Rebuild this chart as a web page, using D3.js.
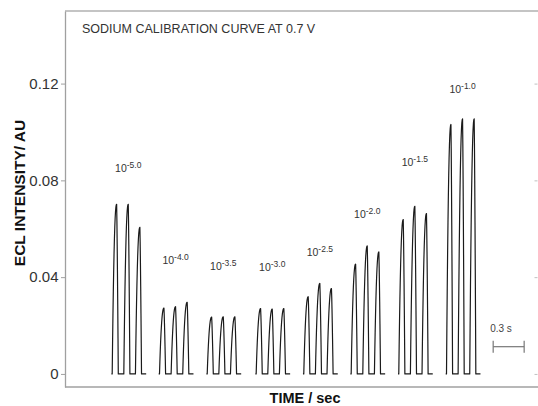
<!DOCTYPE html>
<html>
<head>
<meta charset="utf-8">
<script src="https://cdn.jsdelivr.net/npm/d3@7"></script>
<style>
  body { margin: 0; background: #fff; }
  text { font-family: "Liberation Sans", Arial, sans-serif; }
</style>
</head>
<body>
<script>
// concentration labels (exponent of 10) for each group of pulses
const concentrations = ["-5.0", "-4.0", "-3.5", "-3.0", "-2.5", "-2.0", "-1.5", "-1.0"];
// time (s) of the first pulse peak in each group
const groupStart = [0.50, 0.958, 1.42, 1.894, 2.355, 2.814, 3.275, 3.737];
// peak ECL intensity (AU) of the three pulses in each group
const peak1 = [0.0701, 0.0272, 0.0235, 0.0270, 0.0319, 0.0454, 0.0638, 0.1031];
const peak2 = [0.0701, 0.0278, 0.0236, 0.0268, 0.0374, 0.0529, 0.0693, 0.1054];
const peak3 = [0.0606, 0.0296, 0.0236, 0.0270, 0.0353, 0.0504, 0.0663, 0.1054];
// height (AU) of each concentration label baseline
const labelY = [0.0833, 0.0456, 0.0431, 0.0425, 0.0487, 0.0645, 0.0858, 0.1163];
const yTicks = [0, 0.04, 0.08, 0.12];
const pulsePeriod = 0.1125;   // s between pulses
const scaleBarLength = 0.3;   // s

function EclChart() {
    let obj = {};
    const W = 538, H = 406;
    const margin = {top: 11, right: 0, bottom: 19, left: 65};
    let svg, x, y;
    const rise = 0.043, fall = 0.016;

    obj.setUpChart = () => {
        obj.createSvg();
        obj.createScale();
        obj.createTrace();
        obj.createText();
    };

    obj.createSvg = () => {
        svg = d3.select("body").append("svg")
            .attr("width", W)
            .attr("height", H);
    };

    obj.createScale = () => {
        x = d3.scaleLinear().domain([0, 4.58]).range([margin.left, W - margin.right]);
        y = d3.scaleLinear().domain([-0.0054, 0.15]).range([H - margin.bottom, margin.top]);

        // frame: top and bottom lines
        svg.append("line")
            .attr("x1", x(0)).attr("x2", x(4.58))
            .attr("y1", y(0.15)).attr("y2", y(0.15))
            .attr("stroke", "#b0b0b0").attr("stroke-width", 1.3);
        svg.append("line")
            .attr("x1", x(0)).attr("x2", x(4.58))
            .attr("y1", y(-0.0054)).attr("y2", y(-0.0054))
            .attr("stroke", "#a0a0a0").attr("stroke-width", 1.3);

        const yAxis = d3.axisLeft(y)
            .tickValues(yTicks)
            .tickFormat(d => d === 0 ? "0" : d.toFixed(2))
            .tickSize(4)
            .tickSizeOuter(0)
            .tickPadding(2.5);
        const g = svg.append("g")
            .attr("transform", "translate(" + x(0) + ",0)")
            .call(yAxis);
        g.select(".domain").attr("stroke", "#a0a0a0").attr("stroke-width", 1.3);
        g.selectAll(".tick line").attr("stroke", "#a0a0a0");
        g.selectAll(".tick text")
            .attr("font-size", 15)
            .attr("fill", "#333")
            .style("font-family", "'Liberation Sans', Arial, sans-serif");

        // small inward ticks on the right edge
        const yRight = d3.axisRight(y).tickValues(yTicks).tickSize(-3).tickFormat("");
        const gr = svg.append("g")
            .attr("transform", "translate(" + (W - 0.5) + ",0)")
            .call(yRight);
        gr.select(".domain").remove();
        gr.selectAll(".tick line").attr("stroke", "#c0c0c0");
    };

    // one pulse: steep rise with a rounded top then a quick drop
    function pulse(tip, h) {
        let pts = [];
        for (let i = 0; i <= 12; i++) {
            const u = i / 12;
            pts.push({t: tip - rise + u * rise, v: h * (1 - Math.pow(1 - u, 2.3))});
        }
        for (let i = 1; i <= 6; i++) {
            const u = i / 6;
            pts.push({t: tip + u * fall, v: h * (1 - Math.pow(u, 1.3))});
        }
        return pts;
    }

    obj.createTrace = () => {
        const line = d3.line().x(d => x(d.t)).y(d => y(d.v));
        groupStart.forEach((t0, i) => {
            const heights = [peak1[i], peak2[i], peak3[i]];
            let pts = [{t: t0 - rise - 0.008, v: 0}];
            heights.forEach((h, k) => {
                pts = pts.concat(pulse(t0 + k * pulsePeriod, h));
            });
            pts.push({t: t0 + 2 * pulsePeriod + fall + 0.045, v: 0});
            svg.append("path")
                .datum(pts)
                .attr("d", line)
                .attr("fill", "none")
                .attr("stroke", "#1a1a1a")
                .attr("stroke-width", 1.2)
                .attr("stroke-linejoin", "round");
        });

        // 0.3 s scale bar
        const t0 = 4.146, vb = 0.01126;
        const bar = svg.append("g").attr("stroke", "#777").attr("stroke-width", 1.2);
        bar.append("line")
            .attr("x1", x(t0)).attr("x2", x(t0 + scaleBarLength))
            .attr("y1", y(vb)).attr("y2", y(vb));
        [t0, t0 + scaleBarLength].forEach(t => {
            bar.append("line")
                .attr("x1", x(t)).attr("x2", x(t))
                .attr("y1", y(vb) - 6).attr("y2", y(vb) + 6);
        });
        svg.append("text")
            .attr("x", x(t0) - 3)
            .attr("y", y(vb) - 15)
            .attr("font-size", 10)
            .attr("fill", "#444")
            .text(scaleBarLength + " s");
    };

    obj.createText = () => {
        svg.append("text")
            .attr("x", 82)
            .attr("y", 33)
            .attr("font-size", 12.5)
            .attr("fill", "#333")
            .text("SODIUM CALIBRATION CURVE AT 0.7 V");

        // concentration labels, centred over the middle pulse
        concentrations.forEach((c, i) => {
            const t = svg.append("text")
                .attr("x", x(groupStart[i] + pulsePeriod))
                .attr("y", y(labelY[i]))
                .attr("text-anchor", "middle")
                .attr("fill", "#333")
                .attr("font-size", 10.5);
            t.append("tspan").text("10");
            t.append("tspan").attr("dy", -4).attr("font-size", 8.5).text(c);
        });

        svg.append("text")
            .attr("transform", "translate(25,193) rotate(-90)")
            .attr("text-anchor", "middle")
            .attr("font-size", 15.5)
            .attr("font-weight", "bold")
            .attr("fill", "#111")
            .text("ECL INTENSITY/ AU");

        svg.append("text")
            .attr("x", 305)
            .attr("y", 403)
            .attr("text-anchor", "middle")
            .attr("font-size", 14.5)
            .attr("font-weight", "bold")
            .attr("fill", "#111")
            .text("TIME / sec");
    };

    return obj;
}

var eclChart = EclChart();
eclChart.setUpChart();
</script>
</body>
</html>
